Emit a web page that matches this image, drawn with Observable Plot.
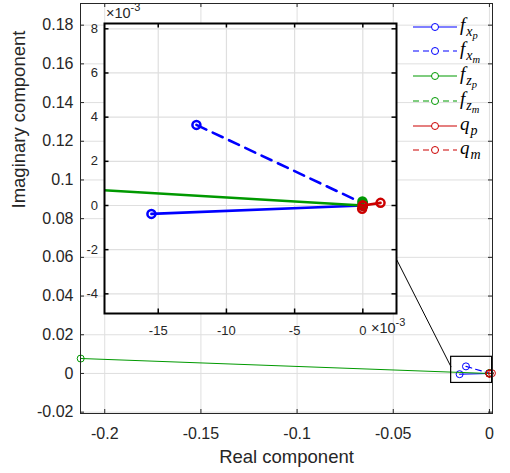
<!DOCTYPE html>
<html><head><meta charset="utf-8">
<script src="https://cdn.jsdelivr.net/npm/d3@7"></script>
<script src="https://cdn.jsdelivr.net/npm/@observablehq/plot@0.6"></script>
<style>
body{margin:0;background:#fff;}
#wrap{position:relative;width:510px;height:473px;overflow:hidden;font-family:"Liberation Sans",Arial,Helvetica,sans-serif;color:#262626;}
#wrap svg{position:absolute;left:0;top:0;}
.abs{position:absolute;white-space:nowrap;}
.exp{font-size:14.5px;line-height:1;}
.exp sup{font-size:11px;vertical-align:0;position:relative;top:-7px;}
.leg{position:absolute;left:413px;height:24px;}
.leg svg{position:absolute;left:0;top:0;}
.leg .lab{position:absolute;left:47px;top:0px;font-family:"Liberation Serif","Times New Roman",serif;font-style:italic;font-size:19px;line-height:1;color:#000;white-space:nowrap;}
.lab .s1{font-size:14px;position:relative;top:5px;margin-left:1px;}
.lab .s2{font-size:10.5px;position:relative;top:3px;}
</style></head><body><div id="wrap"></div><script>
// ---- data (real, imaginary) endpoints of each series ----
const seriesKeys   = ["fxp","fxm","fzp","fzm","qp","qm"];
const seriesColors = ["#0000ff","#0000ff","#009900","#009900","#cc0000","#cc0000"];
const seriesDashed = [false,true,false,true,false,true];
const fxpRe = [-0.0155, 0];      const fxpIm = [-0.00038, 0];
const fxmRe = [-0.0122, 0];      const fxmIm = [0.00365, 0.0001];
const fzpRe = [-0.2125, 0];      const fzpIm = [0.0077, 0];
const fzmRe = [-0.00003, 0];     const fzmIm = [0.00018, 0.00008];
const qpRe  = [0.0013, 0];       const qpIm  = [0.00012, 0];
const qmRe  = [-0.00005, 0];     const qmIm  = [-0.00015, 0];
const seriesRe = [fxpRe, fxmRe, fzpRe, fzmRe, qpRe, qmRe];
const seriesIm = [fxpIm, fxmIm, fzpIm, fzmIm, qpIm, qmIm];
// legend text parts
const legendBase = ["f","f","f","f","q","q"];
const legendSub  = ["x","x","z","z","p","m"];
const legendSub2 = ["p","m","p","m","",""];
// main axes
const mainXDomain = [-0.2126, 0.0016];
const mainYDomain = [-0.0207, 0.1912];
const mainXTicks = [-0.2, -0.15, -0.1, -0.05, 0];
const mainXTickLabels = ["-0.2","-0.15","-0.1","-0.05","0"];
const mainYTicks = [-0.02, 0, 0.02, 0.04, 0.06, 0.08, 0.1, 0.12, 0.14, 0.16, 0.18];
const mainYTickLabels = ["-0.02","0","0.02","0.04","0.06","0.08","0.1","0.12","0.14","0.16","0.18"];
const xLabel = "Real component";
const yLabel = "Imaginary component";
// zoom rectangle and connector (main data coordinates)
const zoomBoxRe = [-0.0199, 0.0014];
const zoomBoxIm = [-0.0049, 0.0086];
const connectorRe = [-0.0481, -0.0199];
const connectorIm = [0.0586, 0.0033];
// inset axes
const insetXDomain = [-0.01894, 0.00247];
const insetYDomain = [-0.00489, 0.00824];
const insetXTicks = [-0.015, -0.01, -0.005, 0];
const insetXTickLabels = ["-15","-10","-5","0"];
const insetYTicks = [-0.004, -0.002, 0, 0.002, 0.004, 0.006, 0.008];
const insetYTickLabels = ["-4","-2","0","2","4","6","8"];
const exponentLabel = ["\u00d710", "-3"];

// ---- build table ----
const rows = [];
seriesKeys.forEach((k, i) => seriesRe[i].forEach((re, j) => rows.push({series: k, re, im: seriesIm[i][j]})));
const of = k => rows.filter(r => r.series === k);

const wrap = document.getElementById("wrap");
const AX = "#262626", GRID = "#dfdfdf";

function seriesMarks(lw, dash, r, sw, clip) {
  const m = [];
  seriesKeys.forEach((k, i) => {
    m.push(Plot.line(of(k), {x: "re", y: "im", stroke: seriesColors[i], strokeWidth: lw,
      strokeDasharray: seriesDashed[i] ? dash : null, clip}));
    m.push(Plot.dot(of(k), {x: "re", y: "im", r, stroke: seriesColors[i], strokeWidth: sw, fill: "none", clip}));
  });
  return m;
}

// ---- main plot ----
{
  const W = 510, H = 473, mL = 80, mR = 18, mT = 3, mB = 60;
  const fw = W - mL - mR, fh = H - mT - mB;
  const fmtX = d => mainXTickLabels[mainXTicks.indexOf(d)];
  const fmtY = d => mainYTickLabels[mainYTicks.indexOf(d)];
  const main = Plot.plot({
    width: W, height: H, marginLeft: mL, marginRight: mR, marginTop: mT, marginBottom: mB,
    style: {background: "transparent", fontFamily: "'Liberation Sans', Arial, sans-serif", overflow: "visible"},
    x: {domain: mainXDomain}, y: {domain: mainYDomain},
    marks: [
      Plot.gridX(mainXTicks, {stroke: GRID, strokeOpacity: 1}),
      Plot.gridY(mainYTicks, {stroke: GRID, strokeOpacity: 1}),
      Plot.axisX(mainXTicks, {tickSize: 0, tickPadding: 14, tickFormat: fmtX, fontSize: 16, fill: AX, label: null}),
      Plot.axisY(mainYTicks, {tickSize: 0, tickPadding: 7, tickFormat: fmtY, fontSize: 16, fill: AX, label: null}),
      Plot.tickX(mainXTicks, {x: d => d, insetTop: fh - 4, stroke: AX}),
      Plot.tickX(mainXTicks, {x: d => d, insetBottom: fh - 4, stroke: AX}),
      Plot.tickY(mainYTicks, {y: d => d, insetRight: fw - 4, stroke: AX}),
      Plot.tickY(mainYTicks, {y: d => d, insetLeft: fw - 4, stroke: AX}),
      ...seriesMarks(1.1, "6,4", 3.5, 1, false),
      Plot.rect([0], {x1: () => zoomBoxRe[0], x2: () => zoomBoxRe[1], y1: () => zoomBoxIm[0], y2: () => zoomBoxIm[1],
        fill: "none", stroke: "#000", strokeWidth: 1.2}),
      Plot.link([0], {x1: () => connectorRe[0], x2: () => connectorRe[1], y1: () => connectorIm[0], y2: () => connectorIm[1],
        stroke: "#000", strokeWidth: 1}),
      Plot.frame({stroke: AX, strokeWidth: 1}),
      Plot.text([xLabel], {text: d => d, frameAnchor: "bottom", dy: 49, fontSize: 18.5, fill: AX}),
      Plot.text([yLabel], {text: d => d, frameAnchor: "left", rotate: -90, dx: -61.5, fontSize: 18.5, fill: AX})
    ]
  });
  wrap.appendChild(main);
}

// ---- inset plot ----
{
  const W = 420, H = 345, mL = 104, mR = 24, mT = 23, mB = 32;
  const fw = W - mL - mR, fh = H - mT - mB;
  const fmtX = d => insetXTickLabels[insetXTicks.indexOf(d)];
  const fmtY = d => insetYTickLabels[insetYTicks.indexOf(d)];
  const inset = Plot.plot({
    width: W, height: H, marginLeft: mL, marginRight: mR, marginTop: mT, marginBottom: mB,
    style: {background: "transparent", fontFamily: "'Liberation Sans', Arial, sans-serif", overflow: "visible"},
    x: {domain: insetXDomain}, y: {domain: insetYDomain},
    marks: [
      Plot.frame({fill: "#fff", stroke: "none"}),
      Plot.gridX(insetXTicks, {stroke: GRID, strokeOpacity: 1, strokeWidth: 1.2}),
      Plot.gridY(insetYTicks, {stroke: GRID, strokeOpacity: 1, strokeWidth: 1.2}),
      Plot.axisX(insetXTicks, {tickSize: 0, tickPadding: 12, tickFormat: fmtX, fontSize: 13, fill: AX, label: null}),
      Plot.axisY(insetYTicks, {tickSize: 0, tickPadding: 6.5, tickFormat: fmtY, fontSize: 13, fill: AX, label: null}),
      ...seriesMarks(2.6, "11,7", 4, 2.5, true),
      Plot.tickX(insetXTicks, {x: d => d, insetTop: fh - 4.5, stroke: "#000", strokeWidth: 1.5}),
      Plot.tickX(insetXTicks, {x: d => d, insetBottom: fh - 4.5, stroke: "#000", strokeWidth: 1.5}),
      Plot.tickY(insetYTicks, {y: d => d, insetRight: fw - 4.5, stroke: "#000", strokeWidth: 1.5}),
      Plot.tickY(insetYTicks, {y: d => d, insetLeft: fw - 4.5, stroke: "#000", strokeWidth: 1.5}),
      Plot.frame({stroke: "#000", strokeWidth: 2})
    ]
  });
  wrap.appendChild(inset);
}

// ---- exponent labels ----
function addExp(left, top) {
  const d = document.createElement("div");
  d.className = "abs exp";
  d.style.left = left + "px"; d.style.top = top + "px";
  d.innerHTML = exponentLabel[0] + "<sup>" + exponentLabel[1] + "</sup>";
  wrap.appendChild(d);
}
addExp(106, 6);
addExp(371, 321);

// ---- legend ----
seriesKeys.forEach((k, i) => {
  const cy = 26.7 + i * 24.7;
  const row = document.createElement("div");
  row.className = "leg";
  row.style.top = (cy - 12) + "px";
  const ns = "http://www.w3.org/2000/svg";
  const svg = document.createElementNS(ns, "svg");
  svg.setAttribute("width", 46); svg.setAttribute("height", 24);
  const ln = document.createElementNS(ns, "line");
  ln.setAttribute("x1", 0); ln.setAttribute("x2", 44); ln.setAttribute("y1", 12); ln.setAttribute("y2", 12);
  ln.setAttribute("stroke", seriesColors[i]); ln.setAttribute("stroke-width", 1.1);
  if (seriesDashed[i]) ln.setAttribute("stroke-dasharray", "6,4");
  const c = document.createElementNS(ns, "circle");
  c.setAttribute("cx", 22); c.setAttribute("cy", 12); c.setAttribute("r", 3.5);
  c.setAttribute("fill", "#fff"); c.setAttribute("stroke", seriesColors[i]); c.setAttribute("stroke-width", 1);
  svg.appendChild(ln); svg.appendChild(c);
  row.appendChild(svg);
  const lab = document.createElement("div");
  lab.className = "lab";
  lab.innerHTML = legendBase[i] + '<span class="s1">' + legendSub[i] +
    (legendSub2[i] ? '<span class="s2">' + legendSub2[i] + '</span>' : '') + '</span>';
  row.appendChild(lab);
  wrap.appendChild(row);
});
</script></body></html>
